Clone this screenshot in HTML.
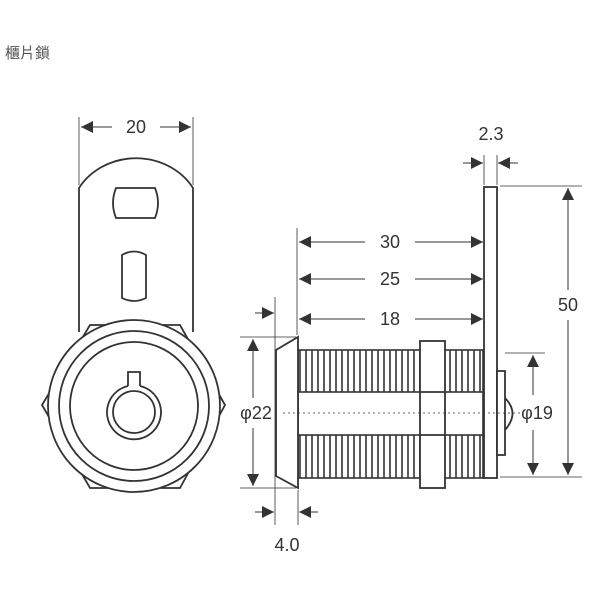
<!DOCTYPE html>
<html><head><meta charset="utf-8"><style>
html,body{margin:0;padding:0;background:#fff;width:600px;height:600px;overflow:hidden}
.t{position:absolute;left:5px;top:42px;font:15px "Liberation Sans","Noto Sans CJK TC",sans-serif;color:#555}
svg{position:absolute;left:0;top:0}
text{font-family:"Liberation Sans",sans-serif;font-size:18px;fill:#333}
</style></head><body>
<div class="t">櫃片鎖</div>
<svg width="600" height="600" viewBox="0 0 600 600">
<defs>
<marker id="a" viewBox="0 0 10 10" refX="10" refY="5" markerWidth="14" markerHeight="12" markerUnits="userSpaceOnUse" orient="auto-start-reverse"><path d="M0,0L10,5L0,10z" fill="#333"/></marker>
<pattern id="th" width="6" height="10" patternUnits="userSpaceOnUse" x="298"><rect width="6" height="10" fill="#fff"/><line x1="2" y1="0" x2="2" y2="10" stroke="#333" stroke-width="1.6"/></pattern>
</defs>
<g stroke="#333" fill="none" stroke-width="1.8">
<!-- left view -->
<line x1="79" y1="117" x2="79" y2="185" stroke-width="0.8"/>
<line x1="193" y1="117" x2="193" y2="185" stroke-width="0.8"/>
<line x1="81" y1="127" x2="112" y2="127" stroke-width="1" marker-start="url(#a)"/>
<line x1="160" y1="127" x2="191" y2="127" stroke-width="1" marker-end="url(#a)"/>
<path d="M79,332 L79,188 A66,60 0 0 1 193,188 L193,332" fill="#fff"/>
<path d="M116,188 L155,188 Q161,203 155,218 L116,218 Q110,203 116,188z"/>
<path d="M122,255 Q134,248 146,255 L146,298 Q134,304 122,298z"/>
<path d="M90,325 L180,325 L225,405 L180,488 L90,488 L42,405z" fill="#fff"/>
<circle cx="134" cy="406" r="86" fill="#fff"/>
<circle cx="134" cy="406" r="75"/>
<circle cx="134" cy="406" r="64"/>
<path d="M128,386 A27,27 0 1 0 140,386"/>
<circle cx="134" cy="412" r="21"/>
<path d="M128,386 L128,372 L140,372 L140,386"/>
<!-- right view -->
<rect x="298" y="350" width="185" height="128" fill="url(#th)" stroke-width="1.6"/>
<rect x="298" y="392" width="185" height="43" fill="#fff" stroke-width="1.6"/>
<path d="M298,337 L298,488 L276,476 L276,350z" fill="#fff"/>
<rect x="420" y="341" width="25" height="147" fill="#fff"/>
<line x1="420" y1="392" x2="445" y2="392"/><line x1="420" y1="435" x2="445" y2="435"/>
<rect x="484" y="187" width="13" height="291" fill="#fff"/>
<rect x="497" y="371" width="8" height="84" fill="#fff"/>
<path d="M505,398 Q520,413 505,430"/>
<line x1="283" y1="413" x2="520" y2="413" stroke-width="0.8" stroke-dasharray="2,3"/>
<!-- dims -->
<g stroke-width="1">
<line x1="297" y1="228" x2="297" y2="335" stroke-width="0.8"/>
<line x1="299" y1="242" x2="365" y2="242" marker-start="url(#a)"/><line x1="415" y1="242" x2="483" y2="242" marker-end="url(#a)"/>
<line x1="299" y1="279" x2="365" y2="279" marker-start="url(#a)"/><line x1="415" y1="279" x2="483" y2="279" marker-end="url(#a)"/>
<line x1="299" y1="319" x2="365" y2="319" marker-start="url(#a)"/><line x1="415" y1="319" x2="483" y2="319" marker-end="url(#a)"/>
<line x1="484" y1="155" x2="484" y2="185" stroke-width="0.8"/><line x1="497" y1="155" x2="497" y2="185" stroke-width="0.8"/>
<line x1="463" y1="163" x2="483" y2="163" marker-end="url(#a)"/><line x1="518" y1="163" x2="498" y2="163" marker-end="url(#a)"/>
<line x1="500" y1="186" x2="582" y2="186" stroke-width="0.8"/><line x1="500" y1="477" x2="582" y2="477" stroke-width="0.8"/>
<line x1="568" y1="290" x2="568" y2="188" marker-end="url(#a)"/><line x1="568" y1="320" x2="568" y2="475" marker-end="url(#a)"/>
<line x1="505" y1="353" x2="545" y2="353" stroke-width="0.8"/>
<line x1="533" y1="395" x2="533" y2="355" marker-end="url(#a)"/><line x1="533" y1="430" x2="533" y2="475" marker-end="url(#a)"/>
<line x1="240" y1="337" x2="296" y2="337" stroke-width="0.8"/><line x1="240" y1="488" x2="296" y2="488" stroke-width="0.8"/>
<line x1="253" y1="398" x2="253" y2="339" marker-end="url(#a)"/><line x1="253" y1="428" x2="253" y2="486" marker-end="url(#a)"/>
<line x1="275" y1="297" x2="275" y2="525" stroke-width="0.8"/><line x1="298" y1="490" x2="298" y2="525" stroke-width="0.8"/>
<line x1="255" y1="313" x2="274" y2="313" marker-end="url(#a)"/>
<line x1="255" y1="512" x2="274" y2="512" marker-end="url(#a)"/><line x1="318" y1="512" x2="299" y2="512" marker-end="url(#a)"/>
</g>
</g>
<text x="136" y="133" text-anchor="middle">20</text>
<text x="390" y="248" text-anchor="middle">30</text>
<text x="390" y="285" text-anchor="middle">25</text>
<text x="390" y="325" text-anchor="middle">18</text>
<text x="491" y="140" text-anchor="middle">2.3</text>
<text x="568" y="311" text-anchor="middle">50</text>
<text x="537" y="419" text-anchor="middle">φ19</text>
<text x="256" y="419" text-anchor="middle">φ22</text>
<text x="287" y="551" text-anchor="middle">4.0</text>
</svg>
</body></html>
